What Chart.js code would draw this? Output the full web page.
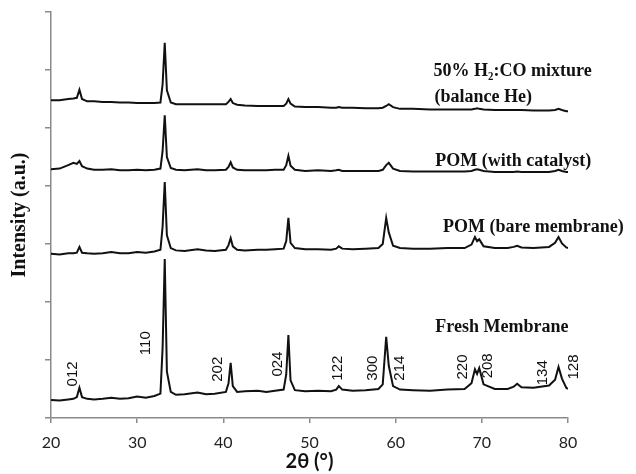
<!DOCTYPE html>
<html>
<head>
<meta charset="utf-8">
<title>XRD patterns</title>
<script src="https://cdn.jsdelivr.net/npm/chart.js@4/dist/chart.umd.min.js"></script>
<style>
  body { margin: 0; background: #fff; }
  canvas { display: block; }
</style>
</head>
<body>
<canvas id="xrdChart" width="636" height="474"></canvas>
<script>
// 2theta positions shared by all four patterns
const twoTheta = [20, 21, 22, 22.6, 23.0, 23.3, 23.6, 24.2, 25, 26, 27, 28, 29, 30, 31, 32, 32.7, 32.95, 33.2, 33.45, 33.9, 34.5, 35.5, 37, 38, 39,
  40.3, 40.6, 40.85, 41.1, 41.6, 42.5, 44, 45, 46, 47.0, 47.3, 47.55, 47.8, 48.3, 49.5, 51, 52.5, 53.1, 53.4, 53.8, 55, 56.5, 58, 58.5,
  58.9, 59.2, 59.7, 60.5, 62, 64, 66, 68, 68.8, 69.2, 69.45, 69.7, 70.2, 71.5, 73, 73.7, 74.1, 74.6, 76, 77.8, 78.5, 78.9, 79.3, 79.8, 80];

// intensities (a.u., already offset for stacking)
const freshMembrane = [0.31, 0.30, 0.32, 0.33, 0.36, 0.52, 0.36, 0.33, 0.32, 0.33, 0.35, 0.33, 0.34, 0.37, 0.35, 0.38, 0.42, 1.2, 2.74, 0.8, 0.45, 0.40, 0.41, 0.44, 0.41, 0.42,
  0.45, 0.6, 0.95, 0.55, 0.45, 0.46, 0.47, 0.45, 0.47, 0.49, 0.75, 1.43, 0.65, 0.48, 0.46, 0.47, 0.46, 0.49, 0.55, 0.49, 0.47, 0.48, 0.50, 0.58,
  1.40, 0.9, 0.55, 0.49, 0.48, 0.47, 0.49, 0.50, 0.60, 0.84, 0.76, 0.86, 0.58, 0.50, 0.50, 0.54, 0.59, 0.53, 0.52, 0.56, 0.66, 0.88, 0.68, 0.52, 0.50];

const pomBare = [2.83, 2.82, 2.84, 2.84, 2.85, 2.95, 2.85, 2.84, 2.83, 2.84, 2.86, 2.84, 2.84, 2.86, 2.85, 2.87, 2.90, 3.3, 4.07, 3.15, 2.93, 2.89, 2.88, 2.91, 2.89, 2.88,
  2.90, 2.98, 3.10, 2.96, 2.90, 2.89, 2.90, 2.90, 2.91, 2.92, 3.05, 3.45, 3.02, 2.93, 2.91, 2.91, 2.90, 2.92, 2.96, 2.92, 2.91, 2.92, 2.93, 3.00,
  3.45, 3.20, 2.97, 2.93, 2.92, 2.92, 2.93, 2.93, 2.99, 3.12, 3.05, 3.08, 2.96, 2.93, 2.93, 2.95, 2.97, 2.94, 2.93, 2.95, 3.02, 3.12, 3.01, 2.94, 2.93];

const pomCatalyst = [4.29, 4.30, 4.36, 4.40, 4.38, 4.43, 4.34, 4.30, 4.28, 4.28, 4.29, 4.27, 4.27, 4.28, 4.27, 4.28, 4.30, 4.6, 5.22, 4.5, 4.31, 4.28, 4.27, 4.29, 4.27, 4.27,
  4.28, 4.33, 4.41, 4.32, 4.28, 4.27, 4.27, 4.27, 4.28, 4.28, 4.36, 4.52, 4.35, 4.28, 4.26, 4.27, 4.26, 4.27, 4.28, 4.26, 4.26, 4.26, 4.26, 4.28,
  4.36, 4.40, 4.30, 4.26, 4.25, 4.25, 4.25, 4.25, 4.26, 4.28, 4.29, 4.28, 4.26, 4.24, 4.24, 4.24, 4.25, 4.24, 4.24, 4.24, 4.26, 4.28, 4.26, 4.24, 4.24];

const h2coMixture = [5.48, 5.48, 5.50, 5.51, 5.52, 5.66, 5.50, 5.46, 5.46, 5.45, 5.45, 5.44, 5.44, 5.43, 5.43, 5.43, 5.44, 5.75, 6.47, 5.65, 5.44, 5.41, 5.41, 5.41, 5.41, 5.41,
  5.41, 5.45, 5.50, 5.43, 5.40, 5.39, 5.38, 5.38, 5.38, 5.38, 5.42, 5.50, 5.42, 5.37, 5.36, 5.36, 5.35, 5.35, 5.36, 5.35, 5.35, 5.34, 5.34, 5.35,
  5.38, 5.41, 5.36, 5.33, 5.33, 5.32, 5.32, 5.32, 5.32, 5.33, 5.34, 5.33, 5.32, 5.31, 5.31, 5.31, 5.31, 5.31, 5.30, 5.30, 5.31, 5.33, 5.31, 5.29, 5.29];

const seriesNames = ["Fresh Membrane", "POM (bare membrane)", "POM (with catalyst)", "50% H\u2082:CO mixture (balance He)"];

// text next to each pattern: [text, 2theta, intensity] (left edge, middle)
const patternLabels = [
  ["50% H\u2082:CO mixture", 64.4, 5.97],
  ["(balance He)", 64.5, 5.53],
  ["POM (with catalyst)", 64.6, 4.43],
  ["POM (bare membrane)", 65.5, 3.29],
  ["Fresh Membrane", 64.6, 1.57]
];

// hkl indices of the fresh membrane peaks: [text, 2theta, intensity] (centre)
const hklLabels = [
  ["012", 22.55, 0.76], ["110", 31.0, 1.29], ["202", 39.4, 0.84], ["024", 46.35, 0.93],
  ["122", 53.3, 0.86], ["300", 57.4, 0.86], ["214", 60.5, 0.86], ["220", 67.8, 0.88],
  ["208", 70.7, 0.90], ["134", 77.1, 0.78], ["128", 80.7, 0.88]
];

const xTicks = [20, 30, 40, 50, 60, 70, 80];

const toPoints = ys => ys.map((y, i) => ({ x: twoTheta[i], y: y }));

const textPlugin = {
    id: "xrdText",
    afterDatasetsDraw(chart) {
        const ctx = chart.ctx;
        const xs = chart.scales.x;
        const ys = chart.scales.y;
        ctx.save();
        ctx.fillStyle = "#111";

        ctx.font = "bold 18px 'Liberation Serif', 'Times New Roman', serif";
        ctx.textAlign = "left";
        ctx.textBaseline = "middle";
        patternLabels.forEach(([t, x, y]) => {
            ctx.fillText(t, xs.getPixelForValue(x), ys.getPixelForValue(y));
        });

        ctx.font = "15px 'Liberation Sans', Arial, sans-serif";
        ctx.textAlign = "center";
        hklLabels.forEach(([t, x, y]) => {
            ctx.save();
            ctx.translate(xs.getPixelForValue(x), ys.getPixelForValue(y));
            ctx.rotate(-Math.PI / 2);
            ctx.fillText(t, 0, 0);
            ctx.restore();
        });
        ctx.restore();
    }
};

const axisGray = "#8a8a8a";

new Chart(document.getElementById("xrdChart"), {
    type: "line",
    data: {
        datasets: [freshMembrane, pomBare, pomCatalyst, h2coMixture].map((ys, i) => ({
            label: seriesNames[i],
            data: toPoints(ys),
            borderColor: "#111",
            borderWidth: 2,
            pointRadius: 0,
            tension: 0,
            fill: false
        }))
    },
    options: {
        responsive: false,
        animation: false,
        layout: { padding: { left: 0, right: 68, top: 12, bottom: 0 } },
        plugins: {
            legend: { display: false },
            tooltip: { enabled: false }
        },
        scales: {
            x: {
                type: "linear",
                min: 20,
                max: 80,
                afterBuildTicks: scale => { scale.ticks = xTicks.map(v => ({ value: v })); },
                afterFit: scale => { scale.height = 56; },
                border: { display: true, color: axisGray, width: 1.5 },
                grid: { drawOnChartArea: false, drawTicks: true, tickLength: 5, color: axisGray, lineWidth: 1.5 },
                ticks: {
                    color: "#222",
                    padding: 10,
                    maxRotation: 0,
                    font: { family: "Lato, 'Open Sans', sans-serif", size: 16 }
                },
                title: {
                    display: true,
                    text: "2\u03b8 (\u00b0)",
                    color: "#111",
                    padding: 0,
                    font: { family: "Lato, 'Open Sans', sans-serif", size: 20, weight: "bold" }
                }
            },
            y: {
                min: 0,
                max: 7,
                ticks: { stepSize: 1, display: false },
                afterFit: scale => { scale.width = 51; },
                border: { display: true, color: axisGray, width: 1.5 },
                grid: { drawOnChartArea: false, drawTicks: true, tickLength: 6, color: axisGray, lineWidth: 1.5 },
                title: {
                    display: true,
                    text: "Intensity (a.u.)",
                    color: "#111",
                    padding: { top: 8, bottom: 0 },
                    font: { family: "'Liberation Serif', 'Times New Roman', serif", size: 20, weight: "bold" }
                }
            }
        }
    },
    plugins: [textPlugin]
});
</script>
</body>
</html>
